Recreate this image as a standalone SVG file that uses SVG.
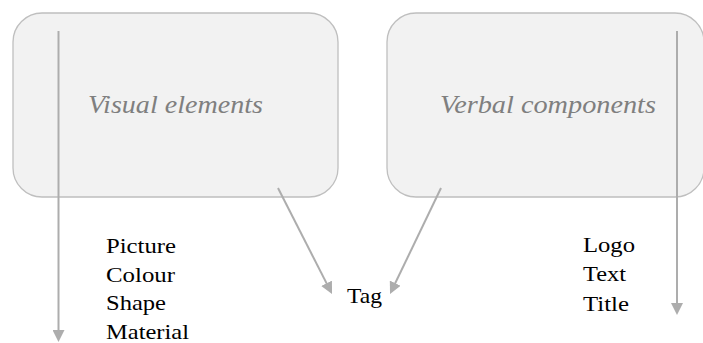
<svg xmlns="http://www.w3.org/2000/svg" width="703" height="343" viewBox="0 0 703 343">
<style>
.box{fill:#F2F2F2;stroke:#BFBFBF;stroke-width:1.3}
.title{font-family:'Liberation Serif','Times New Roman',Times,serif;font-style:italic;font-size:26px;fill:#7F7F7F}
.body{font-family:'Liberation Serif','Times New Roman',Times,serif;font-size:21px;fill:#000}
.conn{stroke:#ADADAD;stroke-width:2;fill:none}
</style>
<defs>
<marker id="arr" viewBox="0 0 12 12" refX="4" refY="6" markerWidth="12" markerHeight="12" markerUnits="userSpaceOnUse" orient="auto">
<path d="M0,0 L12,6 L0,12 z" fill="#ADADAD"/>
</marker>
</defs>
<rect width="703" height="343" fill="#fff"/>
<g id="visual">
<rect class="box" x="13" y="13" width="325" height="184" rx="29" ry="29"/>
<text class="title" x="88" y="113" textLength="175" lengthAdjust="spacingAndGlyphs">Visual elements</text>
</g>
<g id="verbal">
<rect class="box" x="387" y="13" width="317" height="184" rx="29" ry="29"/>
<text class="title" x="440" y="113" textLength="216" lengthAdjust="spacingAndGlyphs">Verbal components</text>
</g>
<g id="visual-list">
<text class="body" x="106" y="253" textLength="70" lengthAdjust="spacingAndGlyphs">Picture</text>
<text class="body" x="106" y="282" textLength="69" lengthAdjust="spacingAndGlyphs">Colour</text>
<text class="body" x="106" y="310" textLength="60" lengthAdjust="spacingAndGlyphs">Shape</text>
<text class="body" x="106" y="339" textLength="83" lengthAdjust="spacingAndGlyphs">Material</text>
</g>
<g id="verbal-list">
<text class="body" x="583" y="252" textLength="52" lengthAdjust="spacingAndGlyphs">Logo</text>
<text class="body" x="583" y="281" textLength="43" lengthAdjust="spacingAndGlyphs">Text</text>
<text class="body" x="583" y="311" textLength="46" lengthAdjust="spacingAndGlyphs">Title</text>
</g>
<g id="tag">
<text class="body" x="347" y="303" textLength="35" lengthAdjust="spacingAndGlyphs">Tag</text>
</g>
<g id="connectors">
<line class="conn" x1="58.5" y1="31" x2="58.5" y2="334" marker-end="url(#arr)"/>
<line class="conn" x1="677" y1="31" x2="677" y2="307" marker-end="url(#arr)"/>
<line class="conn" x1="278" y1="188" x2="328.4" y2="286.9" marker-end="url(#arr)"/>
<line class="conn" x1="441" y1="188" x2="393.5" y2="286.8" marker-end="url(#arr)"/>
</g>
</svg>
